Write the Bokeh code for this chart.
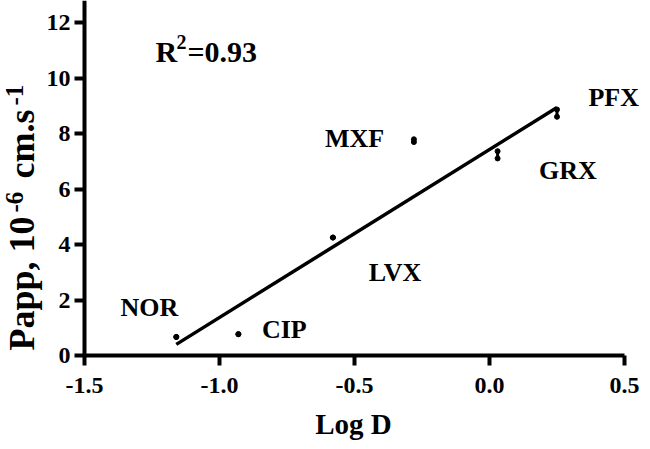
from bokeh.plotting import figure
from bokeh.models import Range1d, FixedTicker, ColumnDataSource
from bokeh.core.properties import value
from bokeh.embed import file_html
from bokeh.resources import INLINE
import numpy as np

drugs = ["NOR", "CIP", "LVX", "MXF", "GRX", "PFX"]
log_d = [-1.16, -0.93, -0.58, -0.28, 0.03, 0.25]
papp = [0.68, 0.78, 4.26, 7.75, 7.24, 8.74]
papp_err = [0.0, 0.0, 0.0, 0.05, 0.13, 0.13]
fit_slope = 6.05
fit_intercept = 7.43
r2_value = "0.93"
label_x = [-1.26, -0.76, -0.35, -0.50, 0.29, 0.46]
label_y = [1.74, 0.96, 3.0, 7.83, 6.68, 9.31]
x_ticks = [-1.5, -1.0, -0.5, 0.0, 0.5]
y_ticks = [0, 2, 4, 6, 8, 10, 12]

FONT = "Liberation Serif"

# layout (page pixels): axis origin at (92, 363.3), 270 px per Log D unit, 27.76 px per Papp unit
FL, FB, PXX, PXY = 92.0, 363.3, 270.0, 27.76
def dx(px):
    return -1.5 + (px - FL) / PXX
def dy(py):
    return (FB - py) / PXY

W, H = 642, 441
p = figure(width=W, height=H, output_backend="svg", toolbar_location=None,
           x_range=Range1d(dx(8), dx(8 + W)), y_range=Range1d(dy(8 + H), dy(8)),
           min_border_left=0, min_border_right=0, min_border_top=0, min_border_bottom=0)
p.outline_line_color = None
p.grid.visible = False
p.background_fill_color = "white"

for ax in (p.xaxis[0], p.yaxis[0]):
    ax.axis_line_width = 4
    ax.axis_line_color = "black"
    ax.major_tick_line_width = 4
    ax.major_tick_line_color = "black"
    ax.major_tick_in = 0
    ax.major_tick_out = 10
    ax.minor_tick_line_color = None
    ax.major_label_text_font = FONT
    ax.major_label_text_font_style = "bold"
    ax.major_label_text_font_size = "24px"
    ax.major_label_text_color = "black"

p.xaxis.fixed_location = 0
p.yaxis.fixed_location = -1.5
p.xaxis.bounds = (-1.5, 0.5)
p.yaxis.bounds = (0, dy(8))
p.xaxis.ticker = FixedTicker(ticks=x_ticks)
p.yaxis.ticker = FixedTicker(ticks=y_ticks)
p.xaxis.major_label_overrides = {t: f"{t:.1f}" for t in x_ticks}
p.xaxis.major_label_standoff = 12
p.yaxis.major_label_standoff = 4

# regression line
fx = np.array([min(log_d), max(log_d)])
fy = fit_slope * fx + fit_intercept
p.line(fx, fy, line_color="black", line_width=3.5)

# replicate spread
lo = [v - e for v, e in zip(papp, papp_err)]
hi = [v + e for v, e in zip(papp, papp_err)]
p.segment(x0=log_d, y0=lo, x1=log_d, y1=hi, line_color="black", line_width=3)
p.scatter(log_d, lo, size=5, color="black")
p.scatter(log_d, hi, size=5, color="black")

src = ColumnDataSource(dict(x=label_x, y=label_y, t=drugs))
p.text(x="x", y="y", text="t", source=src, text_font=value(FONT), text_font_style="bold",
       text_font_size="26px", text_align="center", text_baseline="middle", text_color="black")

def lab(text, px, py, size, angle=0.0, align="left"):
    p.text(x=[dx(px)], y=[dy(py)], text=[text], text_font=value(FONT), text_font_style="bold",
           text_font_size=f"{size}px", text_color="black", angle=angle,
           text_align=align, text_baseline="middle")

# R^2 annotation
lab("R", 163, 59, 30)
lab("2", 184, 49, 20)
lab("=" + r2_value, 195, 59, 30)

# x-axis title
lab("Log D", 361, 431, 29, align="center")

# y-axis title (rotated)
a = np.pi / 2
lab("Papp, 10", 29, 358, 36, angle=a)
lab("-6", 22, 220, 25, angle=a)
lab("cm.s", 29, 186, 36, angle=a)
lab("-1", 22, 113, 25, angle=a)

open("out.html", "w").write(file_html(p, INLINE))
